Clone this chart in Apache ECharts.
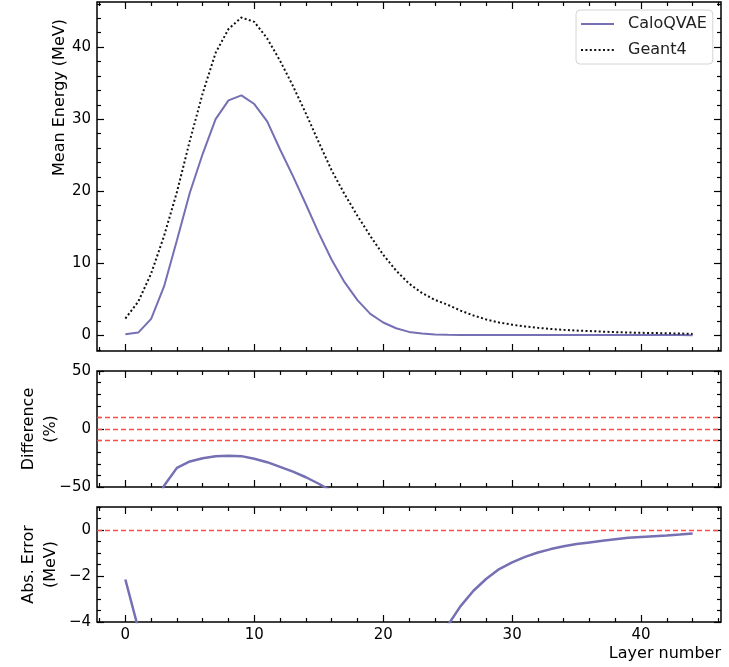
<!DOCTYPE html>
<html>
<head>
<meta charset="utf-8">
<script src="https://cdn.jsdelivr.net/npm/echarts@6/dist/echarts.min.js"></script>
<style>
html,body{margin:0;padding:0;background:#fff;}
#chart{width:729px;height:667px;}
</style>
</head>
<body>
<div id="chart"></div>
<script>
// ---------------- data ----------------
const layers = [0,1,2,3,4,5,6,7,8,9,10,11,12,13,14,15,16,17,18,19,20,21,22,23,24,25,26,27,28,29,30,31,32,33,34,35,36,37,38,39,40,41,42,43,44];
const caloqvae = [0.18,0.40,2.3,6.8,13.2,19.8,25.2,30.0,32.6,33.3,32.1,29.7,25.8,22.1,18.2,14.2,10.5,7.4,4.9,3.0,1.8,1.0,0.5,0.27,0.15,0.11,0.08,0.07,0.06,0.06,0.06,0.06,0.06,0.06,0.06,0.06,0.06,0.06,0.06,0.06,0.06,0.06,0.06,0.06,0.05];
const geant4 = [2.35,4.7,8.6,13.8,19.9,27.0,33.6,39.2,42.5,44.1,43.5,41.2,38.1,34.6,30.8,26.8,22.9,19.6,16.6,13.8,11.2,9.0,7.2,5.9,4.95,4.26,3.45,2.78,2.22,1.8,1.5,1.25,1.06,0.9,0.78,0.68,0.61,0.54,0.47,0.42,0.37,0.34,0.31,0.27,0.22];
const differencePct = [-92,-91,-73,-49,-33.5,-28,-25.2,-23.5,-23.0,-23.4,-25.6,-28.6,-32.6,-36.8,-41.6,-47.2,-53.5,-62,-70,-78,-84,-89,-93,-95,-97,-97.5,-97.6,-97.4,-97.2,-96.6,-95.9,-95.1,-94.2,-93.3,-92.2,-91,-90,-89,-88,-87,-86,-85,-84,-82,-80];
const absErrorMeV = [-2.15,-4.28,-6.3,-7.0,-6.7,-7.2,-8.4,-9.2,-9.9,-10.8,-11.4,-11.5,-12.3,-12.5,-12.6,-12.6,-12.4,-12.1,-11.7,-10.7,-9.3,-8.0,-6.7,-5.6,-4.85,-4.15,-3.31,-2.64,-2.12,-1.70,-1.41,-1.17,-0.98,-0.83,-0.71,-0.61,-0.54,-0.47,-0.40,-0.34,-0.30,-0.27,-0.24,-0.20,-0.155];
const diffRefLines = [10, 0, -10];
const absRefLines = [0];

const xMajorTicks = [0,10,20,30,40];
const xMinorTicks = [-2,2,4,6,8,12,14,16,18,22,24,26,28,32,34,36,38,42,44,46];
const energyMajorTicks = [0,10,20,30,40];
const energyMinorTicks = [-2,2,4,6,8,12,14,16,18,22,24,26,28,32,34,36,38,42,44,46];
const diffMajorTicks = [-50,0,50];
const diffMinorTicks = [-40,-30,-20,-10,10,20,30,40];
const absMajorTicks = [-4,-2,0];
const absMinorTicks = [-3.5,-3,-2.5,-1.5,-1,-0.5,0.5,1];

// ---------------- layout / style ----------------
const FONT = 'DejaVu Sans';
const rects = [
  {left:97, top:2, width:624, height:349},
  {left:97, top:371, width:624, height:116},
  {left:97, top:507, width:624, height:115}
];
const xRange = [-2.2, 46.2];
const yRanges = [[-2.15, 46.25], [-50, 50], [-4, 1]];
const yMajor = [energyMajorTicks, diffMajorTicks, absMajorTicks];
const yMinor = [energyMinorTicks, diffMinorTicks, absMinorTicks];
const MAJ = 7, MIN = 4;

const fmt = v => (v < 0 ? '\u2212' + Math.abs(v) : String(v));

const grids = [];
rects.forEach(r => grids.push(Object.assign({show:true, borderColor:'#000', borderWidth:1.5, backgroundColor:'#fff', containLabel:false}, r)));
rects.forEach(r => grids.push(Object.assign({show:false}, r)));

function axisBase(gridIndex, position, range, ticks, len, labels) {
  return {
    type:'value', gridIndex, position, min:range[0], max:range[1],
    axisLine:{show:false, onZero:false},
    splitLine:{show:false},
    axisTick:{show:true, inside:true, length:len, customValues:ticks, lineStyle:{color:'#000', width:1.2}},
    axisLabel: labels ? {show:true, customValues:ticks, formatter:fmt, fontFamily:FONT, fontSize:15, color:'#000', margin:6} : {show:false}
  };
}

const xAxes = [], yAxes = [];
for (let g = 0; g < 3; g++) {
  xAxes.push(axisBase(g, 'bottom', xRange, xMajorTicks, MAJ, g === 2));
  xAxes.push(axisBase(g, 'top', xRange, xMajorTicks, MAJ, false));
  yAxes.push(axisBase(g, 'left', yRanges[g], yMajor[g], MAJ, true));
  yAxes.push(axisBase(g, 'right', yRanges[g], yMajor[g], MAJ, false));
}
for (let g = 0; g < 3; g++) {
  xAxes.push(axisBase(g + 3, 'bottom', xRange, xMinorTicks, MIN, false));
  xAxes.push(axisBase(g + 3, 'top', xRange, xMinorTicks, MIN, false));
  yAxes.push(axisBase(g + 3, 'left', yRanges[g], yMinor[g], MIN, false));
  yAxes.push(axisBase(g + 3, 'right', yRanges[g], yMinor[g], MIN, false));
}
// axis names
xAxes[4].name = 'Layer number';
xAxes[4].nameLocation = 'end';
xAxes[4].nameGap = 0;
xAxes[4].nameMoveOverlap = false;
xAxes[4].nameTextStyle = {fontFamily:FONT, fontSize:16, color:'#000', align:'right', verticalAlign:'top', padding:[24,0,0,0]};

yAxes[0].name = 'Mean Energy (MeV)';
yAxes[0].nameLocation = 'middle';
yAxes[0].nameRotate = 90;
yAxes[0].nameGap = 29;
yAxes[0].nameMoveOverlap = false;
yAxes[0].nameTextStyle = {fontFamily:FONT, fontSize:16, color:'#000', padding:[0,0,0,158]};

yAxes[2].name = 'Difference\n(%)';
yAxes[2].nameLocation = 'middle';
yAxes[2].nameRotate = 90;
yAxes[2].nameGap = 35;
yAxes[2].nameMoveOverlap = false;
yAxes[2].nameTextStyle = {fontFamily:FONT, fontSize:16, color:'#000', lineHeight:22, align:'center'};

yAxes[4].name = 'Abs. Error\n(MeV)';
yAxes[4].nameLocation = 'middle';
yAxes[4].nameRotate = 90;
yAxes[4].nameGap = 35;
yAxes[4].nameMoveOverlap = false;
yAxes[4].nameTextStyle = {fontFamily:FONT, fontSize:16, color:'#000', lineHeight:22, align:'center'};

const PURPLE = '#7570b3';
const pairs = arr => layers.map((x, i) => [x, arr[i]]);
const refLine = vals => ({
  silent:true, symbol:['none','none'], animation:false,
  label:{show:false},
  lineStyle:{color:'#ff4a4a', type:[5,3], width:1.4},
  data: vals.map(v => ({yAxis:v}))
});

const option = {
  animation:false,
  backgroundColor:'#fff',
  grid: grids,
  xAxis: xAxes,
  yAxis: yAxes,
  legend: {
    data:['CaloQVAE','Geant4'],
    orient:'vertical', left:576, top:10,
    backgroundColor:'#fff', borderColor:'#d4d4d4', borderWidth:1, borderRadius:4,
    padding:[6,6,6,4], itemWidth:33, itemHeight:12, itemGap:10,
    itemStyle:{opacity:0},
    textStyle:{fontFamily:FONT, fontSize:16, color:'#222', padding:[0,0,0,9]}
  },
  series: [
    {name:'CaloQVAE', type:'line', xAxisIndex:0, yAxisIndex:0, data:pairs(caloqvae), symbol:'none',
     lineStyle:{color:PURPLE, width:2}, itemStyle:{color:PURPLE}},
    {name:'Geant4', type:'line', xAxisIndex:0, yAxisIndex:0, data:pairs(geant4), symbol:'none',
     lineStyle:{color:'#111', width:2, type:[2,2.4]}, itemStyle:{color:'#111'}},
    {name:'Difference', type:'line', xAxisIndex:2, yAxisIndex:2, data:pairs(differencePct), symbol:'none',
     lineStyle:{color:PURPLE, width:2.5}, clip:true, markLine:refLine(diffRefLines)},
    {name:'AbsError', type:'line', xAxisIndex:4, yAxisIndex:4, data:pairs(absErrorMeV), symbol:'none',
     lineStyle:{color:PURPLE, width:2.5}, clip:true, markLine:refLine(absRefLines)}
  ]
};

const chart = echarts.init(document.getElementById('chart'), null, {renderer:'canvas'});
chart.setOption(option);
</script>
</body>
</html>
